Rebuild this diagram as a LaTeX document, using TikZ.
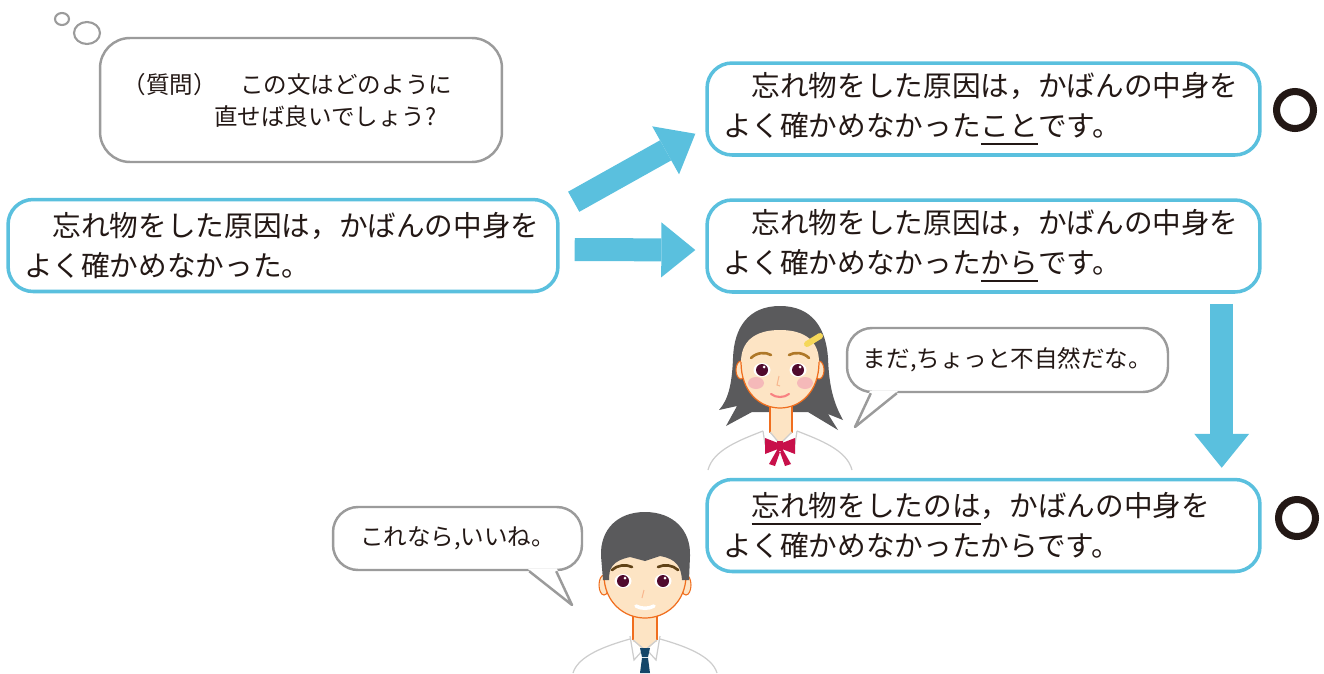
\documentclass[tikz,border=0pt]{standalone}
\usepackage{fontspec}
\setmainfont{Noto Sans CJK JP}
\usetikzlibrary{arrows.meta, calc}

\definecolor{mizu}{RGB}{90,192,222}
\definecolor{fukidashi}{RGB}{155,155,155}
\definecolor{sumi}{RGB}{35,24,21}
\definecolor{kami}{RGB}{90,90,92}
\definecolor{hada}{RGB}{253,228,196}
\definecolor{rinkaku}{RGB}{240,110,30}
\definecolor{hitomi}{RGB}{80,10,45}
\definecolor{mayu}{RGB}{175,120,40}
\definecolor{hoho}{RGB}{245,185,185}
\definecolor{ribon}{RGB}{200,16,74}
\definecolor{nekutai}{RGB}{20,70,105}
\definecolor{shatsu}{RGB}{205,205,205}
\definecolor{kamidome}{RGB}{245,215,90}

% sen wo hiku
\newcommand\bosen[1]{\setbox0\hbox{#1}\rlap{\rule[-5pt]{\wd0}{1.1pt}}\box0}

\tikzset{
  bunbox/.style={draw=mizu, line width=2pt, rounded corners=0.5cm, fill=white,
    minimum width=11.06cm, minimum height=1.84cm, text width=10.42cm,
    inner xsep=0.32cm, align=left, text=sumi, font=\fontsize{16.3}{22.7}\selectfont},
  omoi/.style={draw=fukidashi, line width=1.4pt, rounded corners=0.6cm,
    minimum width=8.04cm, minimum height=2.48cm, text width=7.14cm,
    inner xsep=0.45cm, align=left, text=sumi, font=\fontsize{13.4}{18.2}\selectfont},
  serifu/.style={draw=fukidashi, line width=1.4pt, rounded corners=0.5cm, fill=white,
    text=sumi, font=\fontsize{13.4}{16}\selectfont},
  serifusen/.style={draw=fukidashi, line width=1.4pt, line join=round},
  maru/.style={circle, draw=sumi, line width=4pt, minimum size=0.74cm, inner sep=0pt},
  yajirushi/.style={draw=mizu, line width=0.46cm,
    -{Triangle[length=0.68cm, width=1.1cm, line width=0pt]}},
  jinbutsu/.style={line width=0.7pt}
}

\begin{document}
\begin{tikzpicture}[x=0.02cm, y=-0.02cm]
  \useasboundingbox (0,0) rectangle (1324,673);

  % shitsumon
  \draw[fukidashi, line width=1.2pt] (62,19) ellipse [x radius=7, y radius=6];
  \draw[fukidashi, line width=1.2pt] (87,33) ellipse [x radius=13, y radius=11];
  \node[omoi] (q) at (301,100) {（質問）　この文はどのように\\\hspace*{3.9em}直せば良いでしょう?};

  % bun
  \node[bunbox, minimum width=11cm, text width=10.36cm] (orig) at (283,245.5)
    {　忘れ物をした原因は，かばんの中身を\\よく確かめなかった。};
  \node[bunbox] (boxA) at (983.5,109)
    {　忘れ物をした原因は，かばんの中身を\\よく確かめなかった\bosen{こと}です。};
  \node[bunbox] (boxB) at (983.5,246)
    {　忘れ物をした原因は，かばんの中身を\\よく確かめなかった\bosen{から}です。};
  \node[bunbox] (boxC) at (983.5,525.5)
    {　\bosen{忘れ物をしたのは}，かばんの中身を\\よく確かめなかったからです。};

  \node[maru] (okA) at (1295,110) {};
  \node[maru] (okC) at (1297,518) {};

  % yajirushi
  \draw[yajirushi] ($(orig.north east)+(14,4)$) -- ($(boxA.south west)+(-10,-23)$);
  \draw[yajirushi] ($(orig.east)+(15,4)$) -- ($(boxB.west)+(-10,4)$);
  \draw[yajirushi] ($(boxB.south east)+(-40,10)$) -- ($(boxC.north east)+(-40,-10)$);

  % onna no ko
  \fill[kami] (780,306) .. controls (748,306) and (734,328) .. (733,358)
    .. controls (732,385) and (728,400) .. (719,410) -- (737,406) -- (726,426)
    -- (752,412) -- (808,412) -- (838,430) -- (828,414) -- (843,420)
    .. controls (833,402) and (829,385) .. (828,358)
    .. controls (826,328) and (812,306) .. (780,306) -- cycle;
  \fill[hada] (770,398) rectangle (792,434);
  \draw[rinkaku, line width=0.6pt] (770,400) -- (770,433) (792,400) -- (792,433);
  \filldraw[fill=hada, draw=rinkaku, line width=0.6pt] (741,370) ellipse [x radius=5, y radius=9];
  \filldraw[fill=hada, draw=rinkaku, line width=0.6pt] (819,370) ellipse [x radius=5, y radius=9];
  \fill[hada] (780,330) .. controls (806,330) and (819,342) .. (819,362)
    .. controls (819,392) and (800,408) .. (780,408)
    .. controls (760,408) and (741,392) .. (741,362)
    .. controls (741,342) and (754,330) .. (780,330) -- cycle;
  \draw[rinkaku, jinbutsu] (741,362) .. controls (741,392) and (760,408) .. (780,408)
    .. controls (800,408) and (819,392) .. (819,362);
  \draw[mayu, line width=1.5pt, line cap=round] (751,358) .. controls (757,352) and (766,352) .. (771,355);
  \draw[mayu, line width=1.5pt, line cap=round] (789,355) .. controls (794,352) and (803,352) .. (809,358);
  \foreach \ex in {762,798} {
    \fill[white] (\ex,370) ellipse [x radius=8.5, y radius=7];
    \fill[hitomi] (\ex,370) circle [radius=6];
    \fill[white] (\ex+2,367) circle [radius=1.5];
  }
  \fill[hoho] (756,383) ellipse [x radius=8, y radius=6];
  \fill[hoho] (805,383) ellipse [x radius=8, y radius=6];
  \draw[rinkaku!50, line width=0.6pt] (779,376) -- (777,385) -- (780,386);
  \draw[hoho!70!red, line width=1.2pt, line cap=round] (771,394) .. controls (776,398) and (784,398) .. (789,394);
  \draw[kamidome, line width=3.4pt, line cap=round] (807,344) -- (820,336);
  % seifuku
  \fill[hada] (770,432) -- (780,444) -- (792,432) -- cycle;
  \draw[shatsu, jinbutsu] (708,470) .. controls (713,450) and (740,440) .. (763,431);
  \draw[shatsu, jinbutsu] (797,431) .. controls (820,440) and (847,450) .. (852,470);
  \draw[shatsu, jinbutsu] (763,431) -- (765,444) -- (777,447);
  \draw[shatsu, jinbutsu] (797,431) -- (795,444) -- (783,447);
  \draw[shatsu, jinbutsu] (770,432) -- (780,444) -- (792,432);
  \fill[ribon] (765,438) -- (778,443) -- (778,449) -- (765,454) -- cycle;
  \fill[ribon] (795,438) -- (782,443) -- (782,449) -- (795,454) -- cycle;
  \fill[ribon] (777,441) rectangle (783,451);
  \fill[ribon] (777,450) -- (769,464) -- (775,466) -- (780,452) -- cycle;
  \fill[ribon] (783,450) -- (791,464) -- (785,466) -- (780,452) -- cycle;

  \node[serifu, minimum width=6.42cm, minimum height=1.28cm] (girlsay) at (1007.5,360)
    {まだ,ちょっと不自然だな。};
  \coordinate (gtip) at (855,427);
  \fill[white] ($(girlsay.south west)+(24,-2)$) -- (gtip) -- ($(girlsay.south west)+(52,-2)$) -- cycle;
  \draw[serifusen] ($(girlsay.south west)+(25,0)$) -- (gtip) -- ($(girlsay.south west)+(51,0)$);

  % otoko no ko
  \fill[hada] (633,605) rectangle (657,642);
  \draw[rinkaku, line width=0.6pt] (633,610) -- (633,640) (657,610) -- (657,640);
  \filldraw[fill=hada, draw=rinkaku, line width=0.6pt] (604,585) ellipse [x radius=5, y radius=10];
  \filldraw[fill=hada, draw=rinkaku, line width=0.6pt] (686,585) ellipse [x radius=5, y radius=10];
  \fill[hada] (645,540) .. controls (672,540) and (686,555) .. (686,575)
    .. controls (686,602) and (666,618) .. (645,618)
    .. controls (624,618) and (604,602) .. (604,575)
    .. controls (604,555) and (618,540) .. (645,540) -- cycle;
  \draw[rinkaku, jinbutsu] (604,575) .. controls (604,602) and (624,618) .. (645,618)
    .. controls (666,618) and (686,602) .. (686,575);
  \fill[kami] (645,512) .. controls (617,512) and (600,530) .. (601,556) -- (603,580)
    -- (609,580) .. controls (609,568) and (612,561) .. (630,557) -- (645,561)
    -- (660,556) .. controls (677,559) and (681,567) .. (682,580) -- (689,580)
    -- (690,556) .. controls (691,530) and (673,512) .. (645,512) -- cycle;
  \draw[mayu!55!black, line width=1.5pt, line cap=round] (612,570) .. controls (617,565) and (626,564) .. (632,567);
  \draw[mayu!55!black, line width=1.5pt, line cap=round] (658,567) .. controls (664,564) and (673,565) .. (678,570);
  \foreach \ex in {623,663} {
    \fill[white] (\ex,581) ellipse [x radius=8.5, y radius=7];
    \fill[hitomi] (\ex,581) circle [radius=6];
    \fill[white] (\ex+2,578) circle [radius=1.5];
  }
  \draw[rinkaku!50, line width=0.6pt] (644,590) -- (642,598);
  \draw[white, line width=2pt, line cap=round] (636,606) .. controls (641,609) and (649,609) .. (654,606);
  % seifuku
  \fill[hada] (633,640) -- (645,652) -- (657,640) -- cycle;
  \draw[shatsu, jinbutsu] (573,673) .. controls (578,656) and (605,646) .. (630,639);
  \draw[shatsu, jinbutsu] (660,639) .. controls (685,646) and (712,656) .. (717,673);
  \draw[shatsu, jinbutsu] (630,636) -- (634,660) -- (643,650);
  \draw[shatsu, jinbutsu] (660,636) -- (656,660) -- (647,650);
  \draw[shatsu, jinbutsu] (633,640) -- (645,650) -- (657,640);
  \fill[nekutai] (640,648) -- (650,648) -- (648,657) -- (642,657) -- cycle;
  \fill[nekutai] (642,658) -- (648,658) -- (650,673) -- (640,673) -- cycle;

  \node[serifu, minimum width=4.98cm, minimum height=1.26cm] (boysay) at (457.5,538.5)
    {これなら,いいね。};
  \coordinate (btip) at (572,605);
  \fill[white] ($(boysay.south east)+(-55,-2)$) -- (btip) -- ($(boysay.south east)+(-26,-2)$) -- cycle;
  \draw[serifusen] ($(boysay.south east)+(-54,0)$) -- (btip) -- ($(boysay.south east)+(-27,0)$);
\end{tikzpicture}
\end{document}
